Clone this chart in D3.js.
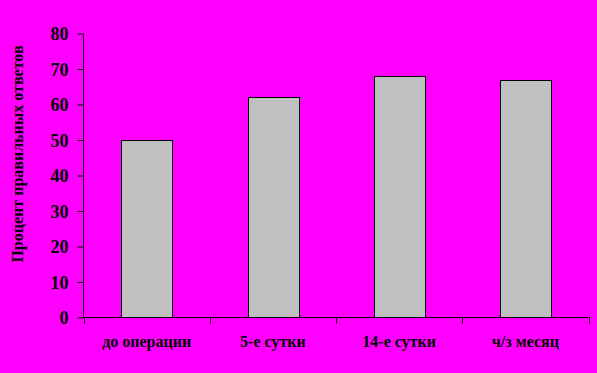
<!DOCTYPE html>
<html><head><meta charset="utf-8">
<script src="https://cdn.jsdelivr.net/npm/d3@7"></script>
<style>
html,body{margin:0;padding:0;background:#FF00FF;}
svg{display:block;}
text{font-family:"Liberation Serif","Times New Roman",serif;font-weight:bold;fill:#000;}
</style></head>
<body>
<svg id="chart" width="597" height="373"></svg>
<script>
const categories = ["до операции", "5-е сутки", "14-е сутки", "ч/з месяц"];
const values = [50, 62, 68, 67];
const yTicks = [0, 10, 20, 30, 40, 50, 60, 70, 80];
const yLabel = "Процент правильных ответов";

(function () {
const svg = d3.select("#chart");
const W = 597, H = 373;
svg.append("rect").attr("width", W).attr("height", H).attr("fill", "#FF00FF");

const mLeft = 83.5, mRight = 588.5, mTop = 33.5, mBottom = 317.5;
const x = d3.scaleBand().domain(categories).range([mLeft, mRight]).paddingInner(0).paddingOuter(0);
const y = d3.scaleLinear().domain([0, 80]).range([mBottom, mTop]);

const bw = x.bandwidth() * 0.4;
svg.append("g").selectAll("rect").data(values).join("rect")
  .attr("x", (d, i) => Math.round(x(categories[i]) + (x.bandwidth() - bw) / 2) + 0.5)
  .attr("y", d => Math.round(y(d)) + 0.5)
  .attr("width", Math.round(bw))
  .attr("height", d => mBottom - Math.round(y(d)) - 0.5)
  .attr("fill", "#C0C0C0").attr("stroke", "#000").attr("stroke-width", 1);

// y axis
const yAxis = svg.append("g").attr("transform", `translate(${mLeft},0)`)
  .call(d3.axisLeft(y).tickValues(yTicks).tickSize(6).tickPadding(9).tickFormat(d3.format("d")));
yAxis.select(".domain").attr("stroke", "#000").attr("d", `M0,${mTop}V${mBottom}`);
yAxis.selectAll(".tick line").attr("stroke", "#000");
yAxis.selectAll(".tick text").attr("font-size", 18).attr("font-family", '"Liberation Serif","Times New Roman",serif').attr("font-weight", "bold").attr("dy", "0.34em");

// x axis
const xAxis = svg.append("g").attr("transform", `translate(0,${mBottom})`)
  .call(d3.axisBottom(x).tickSize(0).tickPadding(18));
xAxis.select(".domain").attr("stroke", "#000").attr("d", `M${mLeft},0H${mRight}`);
xAxis.selectAll(".tick text").attr("font-size", 16).attr("font-family", '"Liberation Serif","Times New Roman",serif').attr("font-weight", "bold");
const bounds = categories.map(c => x(c)).concat([x(categories[categories.length - 1]) + x.bandwidth()]);
xAxis.append("g").selectAll("line").data(bounds).join("line")
  .attr("x1", d => Math.round(d) + 0.5).attr("x2", d => Math.round(d) + 0.5)
  .attr("y1", 0).attr("y2", 6).attr("stroke", "#000");

// y label
svg.append("text")
  .attr("transform", `translate(23,154) rotate(-90)`)
  .attr("text-anchor", "middle")
  .attr("font-size", 16)
  .text(yLabel);
})();
</script>
</body></html>
